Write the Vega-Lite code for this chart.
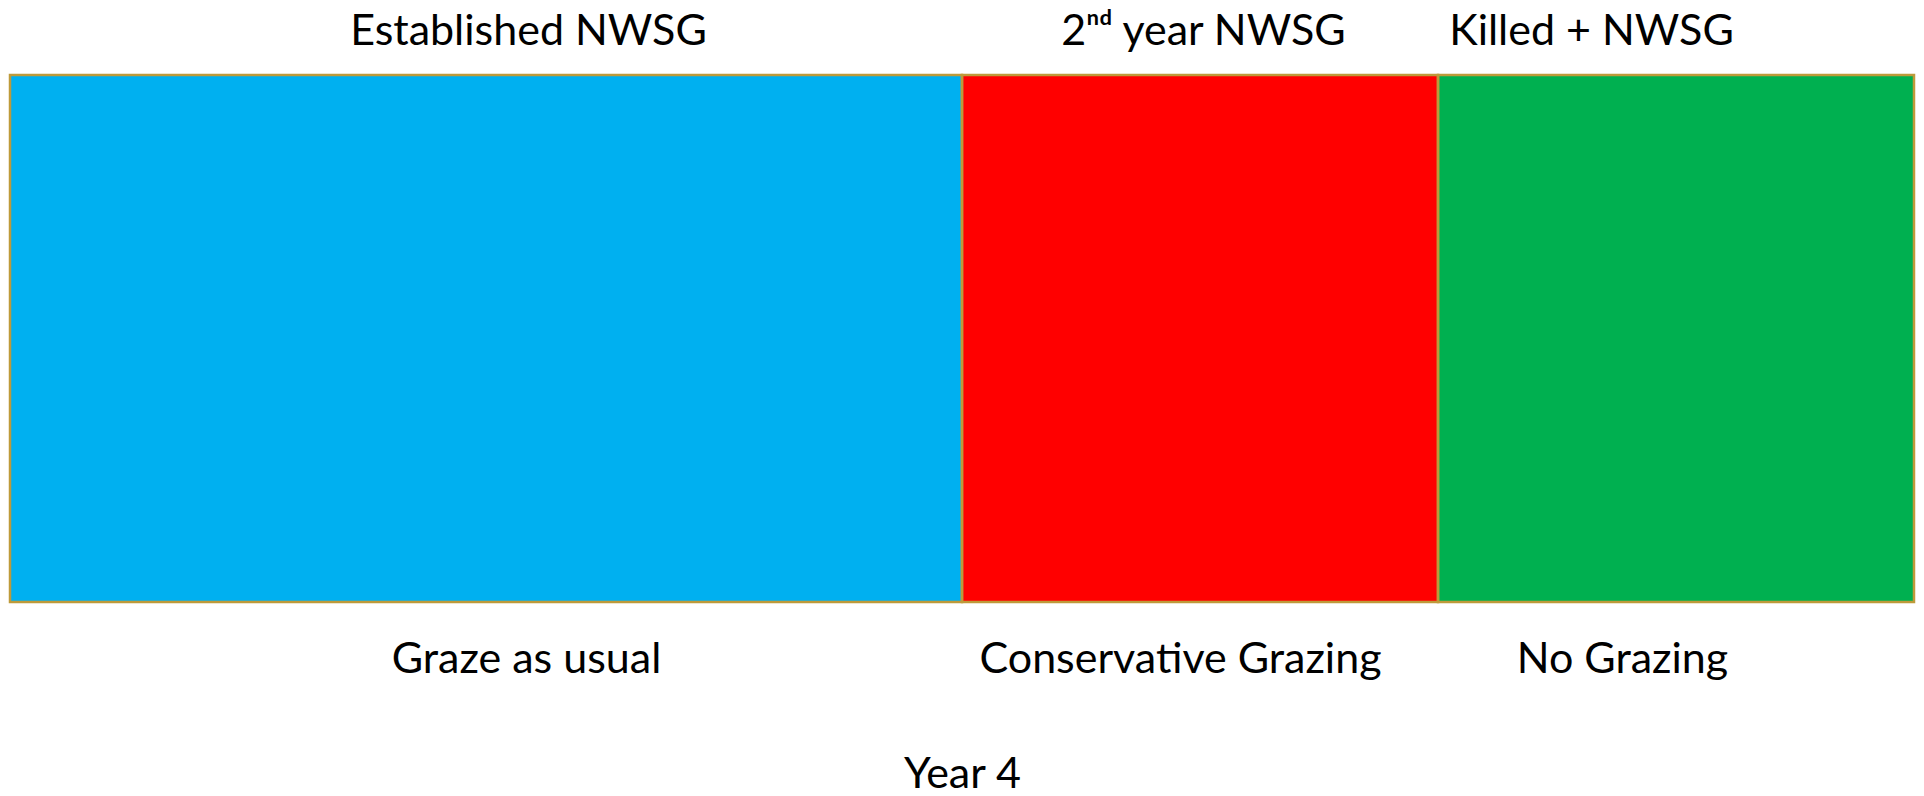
{
  "$schema": "https://vega.github.io/schema/vega-lite/v6.json",
  "width": 1904,
  "height": 527,
  "autosize": {"type": "none"},
  "padding": {"left": 10, "top": 75, "right": 10, "bottom": 194},
  "background": "white",
  "config": {"view": {"stroke": null}},
  "data": {"values": [
    {"segment": "Established NWSG", "use": "Graze as usual", "start": 0, "end": 50},
    {"segment": "2nd year NWSG", "use": "Conservative Grazing", "start": 50, "end": 75},
    {"segment": "Killed + NWSG", "use": "No Grazing", "start": 75, "end": 100}
  ]},
  "layer": [
    {
      "mark": {"type": "rect"},
      "encoding": {
        "x": {"field": "start", "type": "quantitative",
          "scale": {"domain": [0, 100], "nice": false, "zero": true},
          "axis": {"orient": "bottom", "values": [25, 62.5, 87.5], "domain": false, "ticks": false, "tickSize": 0, "grid": false,
            "labelExpr": "datum.value == 25 ? 'Graze as usual' : datum.value == 62.5 ? 'Conservative Grazing' : 'No Grazing'",
            "labelFont": "Lato", "labelFontSize": 43, "labelColor": "black", "labelBaseline": "middle", "labelPadding": 57, "labelLimit": 0,
            "labelOffset": {"condition": [{"test": "datum.value == 25", "value": 40}, {"test": "datum.value == 62.5", "value": -20}], "value": -54},
            "labelBound": false, "labelFlush": false, "labelOverlap": false,
            "title": "Year 4", "titleFont": "Lato", "titleFontSize": 43, "titleFontWeight": "normal", "titleColor": "black", "titleBaseline": "alphabetic", "titleY": 185}},
        "x2": {"field": "end"},
        "color": {"field": "segment", "type": "nominal",
          "scale": {"domain": ["Established NWSG", "2nd year NWSG", "Killed + NWSG"], "range": ["#00B0F0", "#FF0000", "#00B050"]},
          "legend": null}
      }
    },
    {
      "mark": {"type": "rect", "fillOpacity": 0, "stroke": "#BE9A3A", "strokeWidth": 2.5},
      "encoding": {
        "x": {"field": "start", "type": "quantitative",
          "scale": {"domain": [0, 100], "nice": false, "zero": true},
          "axis": {"orient": "top", "values": [25, 62.5, 87.5], "domain": false, "ticks": false, "tickSize": 0, "grid": false,
            "labelExpr": "datum.value == 25 ? 'Established NWSG' : datum.value == 62.5 ? '2ⁿᵈ year NWSG' : 'Killed + NWSG'",
            "labelFont": "Lato", "labelFontSize": 43, "labelColor": "black", "labelBaseline": "middle", "labelPadding": 44, "labelLimit": 0,
            "labelOffset": {"condition": [{"test": "datum.value == 25", "value": 42}, {"test": "datum.value == 62.5", "value": 3}], "value": -85},
            "labelBound": false, "labelFlush": false, "labelOverlap": false,
            "title": null}},
        "x2": {"field": "end"}
      }
    }
  ],
  "resolve": {"scale": {"x": "independent"}}
}
